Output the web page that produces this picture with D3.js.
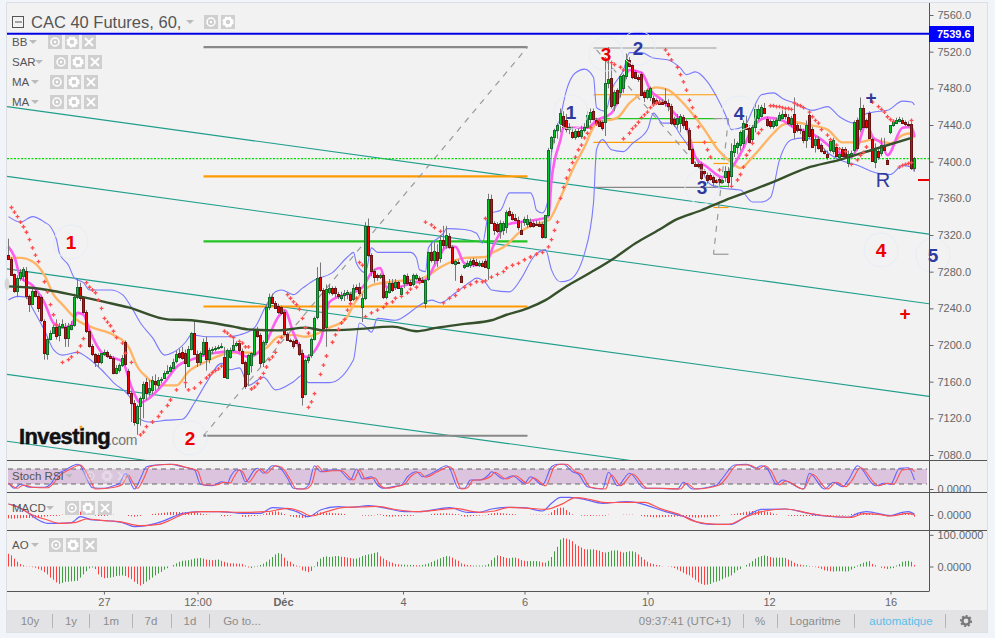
<!DOCTYPE html>
<html>
<head>
<meta charset="utf-8">
<script src="https://cdnjs.cloudflare.com/ajax/libs/d3/7.8.5/d3.min.js"></script>
<style>
  body { margin: 0; background: #f1f4f9; }
  svg { display: block; }
  text { font-family: "Liberation Sans", Arial, sans-serif; }
</style>
</head>
<body>
<div id="chart-area"></div>
<script>
// open, high, low, close per hourly bar
const ohlc = [
  [7298,7316,7294,7294],[7294,7296,7277,7277],[7277,7278,7257,7259],[7259,7276,7252,7273],[7273,7283,7270,7280],
  [7275,7285,7270,7283],[7281,7285,7250,7254],[7254,7255,7236,7245],[7245,7263,7244,7259],[7259,7261,7252,7254],
  [7254,7256,7236,7241],[7252,7254,7225,7227],[7226,7228,7184,7191],[7191,7209,7184,7207],[7207,7216,7205,7213],
  [7213,7222,7212,7220],[7220,7228,7206,7210],[7211,7224,7204,7221],[7220,7228,7218,7223],[7220,7224,7198,7208],
  [7208,7224,7198,7221],[7218,7226,7216,7222],[7222,7256,7220,7252],[7252,7272,7250,7263],[7263,7268,7248,7251],
  [7251,7253,7234,7236],[7236,7238,7213,7215],[7215,7217,7197,7199],[7199,7201,7188,7190],[7190,7191,7176,7181],
  [7189,7191,7176,7181],[7181,7191,7179,7191],[7190,7195,7188,7192],[7192,7194,7186,7188],[7188,7190,7185,7186],
  [7186,7188,7168,7170],[7170,7178,7168,7175],[7173,7180,7170,7178],[7178,7189,7176,7186],[7203,7205,7177,7179],
  [7172,7174,7146,7148],[7148,7150,7116,7137],[7137,7140,7112,7116],[7115,7135,7102,7133],[7133,7144,7112,7142],
  [7142,7160,7120,7157],[7160,7164,7140,7148],[7149,7162,7144,7153],[7151,7166,7146,7162],[7161,7168,7150,7158],
  [7157,7165,7152,7162],[7162,7165,7158,7163],[7165,7172,7163,7170],[7170,7178,7168,7172],[7172,7178,7170,7176],
  [7176,7185,7174,7182],[7182,7194,7180,7190],[7191,7196,7185,7187],[7192,7198,7184,7186],[7191,7195,7153,7180],
  [7178,7199,7176,7196],[7196,7214,7194,7213],[7213,7226,7189,7190],[7190,7194,7176,7181],[7181,7193,7178,7191],
  [7190,7207,7188,7203],[7203,7209,7172,7185],[7185,7197,7180,7195],[7195,7198,7190,7196],[7196,7199,7193,7197],
  [7197,7200,7195,7198],[7198,7202,7196,7199],[7187,7198,7165,7165],[7165,7196,7163,7195],[7187,7197,7185,7195],
  [7195,7206,7193,7200],[7200,7204,7198,7202],[7202,7204,7192,7194],[7194,7196,7179,7181],[7181,7183,7152,7155],
  [7168,7190,7155,7189],[7178,7192,7170,7191],[7190,7217,7188,7216],[7216,7220,7208,7209],[7211,7213,7176,7180],
  [7181,7205,7176,7203],[7203,7244,7200,7241],[7241,7256,7238,7252],[7252,7256,7245,7246],[7246,7248,7240,7241],
  [7243,7245,7234,7236],[7241,7243,7233,7235],[7236,7238,7210,7212],[7212,7214,7205,7206],[7205,7207,7203,7204],
  [7204,7206,7196,7198],[7205,7207,7201,7202],[7201,7203,7188,7190],[7191,7195,7134,7143],[7147,7185,7145,7184],
  [7184,7190,7180,7187],[7190,7208,7186,7207],[7207,7231,7205,7230],[7230,7285,7228,7273],[7274,7290,7258,7260],
  [7260,7262,7218,7219],[7220,7266,7198,7261],[7258,7266,7255,7262],[7262,7264,7254,7256],[7262,7264,7252,7257],
  [7256,7258,7250,7254],[7252,7258,7248,7255],[7255,7260,7248,7257],[7256,7260,7250,7258],[7256,7258,7245,7250],
  [7250,7266,7248,7262],[7263,7266,7260,7261],[7263,7268,7254,7256],[7241,7256,7225,7251],[7251,7334,7249,7330],
  [7330,7338,7296,7298],[7298,7300,7275,7281],[7281,7283,7268,7274],[7276,7278,7270,7274],[7274,7278,7272,7276],
  [7276,7278,7250,7252],[7252,7262,7250,7259],[7258,7272,7256,7268],[7268,7272,7258,7260],[7264,7272,7260,7269],
  [7269,7270,7261,7263],[7255,7264,7252,7262],[7267,7277,7262,7276],[7275,7278,7265,7267],[7269,7271,7264,7266],
  [7266,7278,7264,7276],[7273,7278,7271,7276],[7273,7275,7268,7271],[7271,7274,7268,7269],[7246,7272,7240,7271],
  [7273,7302,7270,7302],[7302,7312,7290,7293],[7293,7312,7288,7303],[7302,7310,7285,7293],[7295,7320,7290,7315],
  [7315,7330,7305,7310],[7309,7330,7305,7320],[7319,7322,7305,7307],[7307,7309,7288,7290],[7289,7293,7270,7292],
  [7291,7293,7289,7290],[7275,7277,7268,7269],[7285,7288,7283,7287],[7287,7292,7285,7290],[7288,7294,7284,7292],
  [7293,7295,7285,7289],[7291,7294,7286,7288],[7288,7292,7285,7290],[7290,7292,7285,7287],[7292,7294,7284,7285],
  [7284,7365,7271,7359],[7359,7364,7332,7333],[7333,7335,7320,7325],[7332,7334,7322,7324],[7324,7336,7316,7333],
  [7325,7335,7320,7333],[7329,7347,7322,7345],[7346,7350,7340,7342],[7343,7345,7336,7338],[7339,7343,7335,7337],
  [7336,7340,7325,7328],[7326,7335,7320,7322],[7335,7340,7330,7338],[7333,7342,7328,7338],[7334,7338,7328,7330],
  [7333,7336,7328,7330],[7332,7336,7330,7331],[7332,7335,7329,7330],[7332,7334,7316,7318],[7318,7342,7316,7342],
  [7342,7415,7340,7413],[7415,7428,7410,7427],[7427,7436,7420,7435],[7435,7442,7425,7440],[7441,7458,7432,7453],
  [7450,7455,7436,7438],[7446,7452,7432,7436],[7436,7442,7430,7438],[7432,7438,7425,7427],[7427,7436,7424,7433],
  [7433,7436,7426,7428],[7429,7440,7425,7435],[7435,7442,7432,7438],[7438,7455,7436,7451],[7446,7458,7442,7454],
  [7455,7458,7445,7446],[7446,7448,7440,7443],[7444,7446,7438,7439],[7443,7445,7434,7436],[7443,7510,7428,7486],
  [7486,7525,7480,7490],[7491,7510,7458,7461],[7462,7478,7455,7476],[7478,7480,7462,7464],[7476,7495,7470,7493],
  [7480,7496,7475,7494],[7493,7518,7490,7512],[7511,7514,7503,7505],[7505,7507,7490,7492],[7498,7500,7490,7492],
  [7492,7495,7487,7490],[7496,7498,7472,7473],[7476,7478,7465,7470],[7470,7480,7468,7478],[7470,7482,7466,7480],
  [7470,7472,7462,7465],[7467,7469,7463,7464],[7465,7468,7462,7463],[7465,7468,7462,7463],[7466,7480,7460,7464],
  [7464,7468,7455,7461],[7461,7463,7440,7443],[7447,7449,7438,7441],[7441,7452,7436,7448],[7442,7452,7432,7450],
  [7449,7451,7436,7440],[7444,7446,7434,7435],[7435,7437,7412,7414],[7414,7415,7398,7399],[7398,7400,7395,7396],
  [7397,7399,7393,7395],[7398,7400,7380,7383],[7390,7392,7385,7388],[7386,7388,7376,7380],[7385,7388,7380,7381],
  [7383,7385,7374,7378],[7380,7382,7376,7378],[7381,7383,7372,7378],[7378,7381,7376,7380],[7383,7395,7378,7390],
  [7390,7394,7372,7378],[7385,7420,7374,7412],[7410,7425,7405,7418],[7416,7422,7408,7420],[7418,7434,7412,7432],
  [7420,7445,7415,7442],[7441,7450,7435,7436],[7437,7440,7420,7422],[7425,7440,7420,7438],[7437,7462,7432,7457],
  [7448,7462,7445,7458],[7450,7462,7448,7460],[7459,7464,7452,7453],[7447,7449,7438,7440],[7444,7446,7436,7439],
  [7439,7446,7436,7444],[7440,7448,7438,7446],[7446,7454,7444,7451],[7448,7456,7446,7452],[7452,7455,7446,7450],
  [7449,7452,7440,7442],[7441,7450,7438,7448],[7452,7470,7425,7432],[7440,7442,7432,7435],[7436,7440,7430,7435],
  [7434,7436,7420,7424],[7424,7445,7415,7440],[7451,7456,7425,7428],[7436,7438,7416,7416],[7418,7428,7410,7425],
  [7425,7428,7413,7415],[7418,7420,7410,7411],[7412,7414,7408,7410],[7408,7412,7402,7405],[7413,7425,7410,7423],
  [7412,7426,7408,7424],[7416,7418,7405,7406],[7405,7410,7403,7408],[7414,7416,7405,7406],[7414,7416,7405,7406],
  [7398,7412,7394,7408],[7408,7412,7405,7410],[7412,7445,7410,7443],[7446,7448,7412,7415],[7436,7470,7432,7459],
  [7459,7462,7437,7438],[7445,7447,7436,7437],[7453,7455,7426,7426],[7425,7426,7400,7401],[7400,7420,7393,7413],
  [7412,7416,7402,7405],[7409,7426,7406,7418],[7418,7426,7412,7413],[7402,7404,7398,7398],[7432,7440,7430,7440],
  [7440,7446,7438,7444],[7443,7448,7441,7446],[7445,7449,7443,7447],[7446,7448,7441,7443],[7443,7445,7439,7441],
  [7441,7444,7438,7440],[7441,7443,7391,7393],[7393,7405,7390,7404]
];

// indicators on the price panel, as [bar, price]
const bbUpper = [[0,7340],[4,7334],[8,7340],[12,7334],[14,7329],[16,7315],[17,7300],[20,7287],[22,7273],[25,7268],[27,7260],[34,7260],[38,7255],[41,7241],[44,7224],[48,7208],[52,7189],[55,7192],[59,7203],[61,7211],[66,7209],[73,7209],[77,7211],[82,7219],[86,7244],[89,7258],[91,7260],[95,7255],[98,7262],[102,7271],[108,7279],[113,7296],[115,7301],[116,7289],[119,7279],[121,7306],[123,7301],[134,7301],[136,7295],[137,7282],[139,7280],[140,7306],[145,7322],[146,7327],[152,7326],[156,7322],[158,7311],[160,7342],[161,7344],[164,7347],[167,7366],[170,7366],[174,7366],[175,7360],[176,7347],[178,7344],[180,7361],[181,7409],[184,7449],[186,7478],[189,7497],[192,7501],[195,7492],[196,7459],[199,7455],[201,7478],[205,7500],[207,7519],[211,7519],[215,7513],[220,7511],[224,7502],[226,7495],[229,7498],[233,7487],[236,7471],[239,7451],[241,7435],[244,7437],[246,7442],[248,7456],[251,7473],[255,7475],[258,7469],[262,7464],[268,7456],[273,7460],[277,7449],[282,7442],[285,7451],[288,7454],[293,7456],[298,7466],[301,7465],[302,7462]];
const bbLower = [[0,7249],[3,7253],[6,7252],[8,7240],[12,7216],[15,7195],[18,7189],[23,7192],[26,7187],[31,7173],[35,7159],[41,7140],[43,7121],[47,7116],[53,7118],[58,7119],[62,7137],[66,7159],[71,7180],[74,7173],[77,7175],[80,7156],[85,7165],[89,7151],[95,7160],[98,7167],[100,7159],[107,7159],[115,7184],[117,7224],[119,7220],[121,7214],[123,7229],[129,7227],[134,7236],[136,7241],[141,7249],[144,7246],[149,7257],[154,7269],[156,7273],[159,7268],[161,7260],[167,7258],[171,7273],[175,7296],[179,7304],[181,7282],[184,7269],[187,7271],[192,7300],[195,7355],[196,7413],[198,7424],[201,7413],[205,7411],[208,7420],[213,7435],[215,7453],[218,7442],[221,7442],[224,7429],[226,7420],[229,7405],[231,7391],[234,7375],[238,7371],[244,7369],[248,7356],[251,7356],[254,7361],[257,7402],[261,7424],[265,7426],[270,7420],[273,7410],[277,7402],[283,7396],[289,7388],[294,7386],[298,7396],[301,7394],[302,7389]];
const maFast = [[0,7307],[2,7296],[4,7274],[8,7265],[12,7246],[15,7224],[18,7219],[21,7222],[23,7235],[25,7233],[27,7216],[31,7192],[34,7187],[38,7182],[41,7154],[44,7137],[46,7140],[52,7159],[56,7176],[61,7184],[68,7191],[75,7193],[80,7187],[85,7198],[90,7231],[92,7238],[95,7213],[99,7187],[104,7205],[107,7247],[118,7263],[121,7279],[124,7284],[126,7263],[129,7263],[135,7268],[139,7271],[143,7293],[146,7307],[149,7307],[152,7289],[155,7287],[159,7289],[162,7311],[166,7331],[170,7334],[175,7336],[180,7340],[181,7380],[184,7424],[185,7437],[188,7437],[193,7437],[196,7445],[201,7453],[204,7475],[207,7500],[211,7497],[214,7478],[218,7467],[223,7449],[226,7438],[229,7405],[233,7394],[238,7383],[241,7393],[245,7415],[248,7437],[253,7448],[258,7445],[262,7437],[267,7432],[271,7424],[274,7416],[277,7410],[281,7405],[283,7416],[286,7442],[288,7427],[291,7420],[293,7407],[298,7437],[301,7438],[302,7427]];
const maMid = [[0,7295],[4,7295],[8,7291],[12,7276],[15,7255],[18,7244],[23,7227],[28,7219],[35,7211],[40,7198],[43,7176],[46,7165],[50,7156],[56,7156],[60,7171],[66,7182],[73,7191],[78,7192],[82,7191],[86,7197],[90,7209],[95,7211],[99,7209],[104,7214],[107,7219],[112,7227],[116,7249],[121,7265],[128,7269],[138,7273],[144,7285],[152,7295],[159,7296],[161,7300],[166,7309],[170,7322],[175,7331],[180,7336],[184,7361],[188,7391],[192,7416],[196,7442],[203,7448],[207,7464],[212,7476],[216,7481],[220,7478],[224,7467],[227,7456],[232,7435],[236,7415],[241,7399],[244,7393],[248,7405],[255,7431],[258,7440],[262,7443],[267,7440],[273,7435],[278,7421],[283,7421],[288,7424],[294,7420],[298,7429],[301,7431],[302,7426]];
const maSlow = [[0,7264],[6,7263],[13,7260],[21,7255],[32,7247],[40,7241],[53,7228],[61,7227],[75,7220],[80,7217],[90,7216],[99,7219],[105,7216],[115,7217],[128,7220],[136,7215],[143,7219],[152,7223],[161,7227],[166,7233],[173,7240],[179,7249],[185,7262],[194,7279],[202,7295],[209,7311],[217,7326],[222,7336],[231,7347],[239,7358],[248,7369],[255,7378],[266,7393],[277,7402],[288,7413],[301,7426]];
const sar = [[1,7350],[2,7345],[3,7340],[4,7334],[5,7329],[6,7323],[7,7315],[8,7306],[9,7298],[10,7291],[12,7269],[13,7258],[14,7244],[15,7233],[16,7222],
  [18,7181],[20,7184],[21,7187],[23,7192],[24,7199],[25,7207],
  [26,7268],[27,7263],[28,7260],[29,7257],[30,7249],[31,7240],[32,7229],[33,7225],[34,7221],[35,7215],[36,7208],[38,7202],[39,7191],[41,7181],
  [44,7102],[45,7105],[46,7111],[48,7116],[50,7122],[51,7127],[53,7134],[54,7140],[56,7151],[59,7159],[60,7151],[62,7153],[64,7159],[66,7164],[67,7167],[68,7170],[69,7172],[70,7174],[71,7177],
  [72,7215],[73,7213],[74,7210],[75,7208],[77,7204],[78,7202],[79,7198],[80,7198],
  [81,7152],[82,7154],[83,7158],[84,7164],[85,7169],[86,7176],[87,7184],[88,7187],[89,7192],[90,7203],[91,7208],
  [93,7255],[94,7251],[95,7247],[96,7244],[97,7239],[98,7229],[99,7219],[100,7213],
  [100,7132],[101,7138],[102,7147],[104,7168],[105,7178],[106,7188],[108,7203],[109,7211],[110,7217],[111,7224],[112,7228],[113,7238],[114,7245],[116,7251],
  [117,7290],[118,7287],
  [119,7231],[121,7235],[123,7238],[125,7241],[126,7245],[128,7247],[129,7251],[131,7253],[133,7257],[134,7261],[136,7263],[137,7268],
  [139,7334],[141,7331],[142,7328],[144,7324],[159,7338],
  [145,7246],[147,7251],[149,7254],[150,7260],[152,7263],[154,7266],[156,7269],[158,7269],[159,7270],[161,7274],[163,7277],[165,7280],[166,7284],[168,7287],[170,7289],[172,7293],[174,7296],[176,7299],[178,7301],[180,7307],[181,7315],[182,7325],[183,7334],
  [184,7360],[185,7372],[186,7382],[187,7391],[188,7399],[189,7405],[190,7413],[191,7418],[192,7426],[193,7431],[194,7437],[196,7441],[197,7445],
  [199,7512],[201,7508],[202,7506],[204,7503],[205,7500],
  [205,7425],[207,7431],[208,7436],[209,7439],[210,7443],[211,7448],[212,7451],[213,7454],[214,7459],[215,7462],[216,7464],[217,7465],
  [219,7522],[220,7517],[221,7511],[223,7503],[224,7495],[225,7487],[226,7478],[227,7467],[228,7459],[229,7449],[230,7438],[232,7421],[233,7413],[234,7405],[237,7391],
  [241,7373],[243,7380],[244,7386],[245,7394],[246,7407],[247,7412],[248,7420],[250,7431],[251,7435],
  [254,7461],[255,7461],[256,7460],[257,7460],[258,7459],[259,7458],[260,7458],[261,7457],
  [262,7464],[263,7462],[264,7461],[265,7459],[267,7454],[268,7449],[269,7445],[270,7442],[271,7435],[273,7429],[274,7424],[276,7418],[277,7414],[279,7411],
  [281,7397],[283,7402],[284,7407],[285,7410],[286,7416],
  [288,7465],[290,7460],[291,7457],[292,7454],[293,7449],[294,7446],[295,7444],
  [297,7394],[298,7396],[299,7397],[300,7398],[301,7399],[301,7445]];

// lower panels
const stochK = [[0,23],[2,3],[4,19],[7,7],[12,7],[14,19],[16,56],[19,76],[23,99],[24,93],[26,43],[28,5],[32,3],[35,13],[37,23],[39,63],[40,45],[42,0],[44,43],[46,89],[49,96],[54,99],[58,89],[62,76],[64,19],[68,13],[71,29],[73,23],[74,49],[76,76],[77,76],[79,29],[82,76],[83,83],[85,63],[88,93],[90,89],[93,43],[95,3],[98,0],[100,16],[102,93],[104,69],[107,76],[110,76],[114,36],[116,80],[118,40],[121,49],[123,16],[125,3],[128,9],[131,16],[133,49],[136,69],[138,49],[142,69],[146,93],[147,83],[150,3],[152,3],[154,36],[157,36],[160,56],[161,69],[165,40],[168,53],[172,23],[174,49],[178,16],[181,89],[183,99],[185,99],[188,69],[190,59],[193,9],[198,0],[200,67],[203,13],[207,63],[212,3],[216,3],[223,0],[225,27],[228,0],[236,16],[238,43],[242,96],[246,99],[249,83],[251,93],[253,80],[256,19],[258,36],[265,0],[267,63],[272,0],[275,27],[278,9],[280,36],[283,93],[289,13],[292,23],[294,19],[297,83],[300,85],[302,36]];
const stochD = [[0,23],[3,3],[5,16],[8,7],[13,5],[15,23],[17,53],[20,76],[24,96],[25,85],[27,43],[29,0],[33,3],[36,9],[38,19],[40,56],[41,36],[43,3],[45,40],[47,89],[50,96],[55,99],[59,87],[63,73],[65,16],[69,16],[72,27],[74,24],[75,45],[77,76],[78,69],[80,27],[83,72],[84,80],[86,63],[89,93],[91,87],[94,36],[96,0],[99,0],[101,19],[103,93],[105,69],[108,73],[111,73],[115,36],[117,76],[119,40],[122,45],[124,13],[126,3],[129,9],[132,19],[134,49],[137,67],[139,47],[143,69],[147,89],[148,80],[151,0],[153,5],[155,36],[157,36],[161,53],[162,67],[166,40],[169,53],[173,23],[175,45],[179,13],[182,89],[184,99],[186,99],[189,69],[191,59],[194,7],[199,0],[201,56],[204,13],[208,60],[213,3],[217,3],[224,0],[226,23],[229,0],[237,16],[239,40],[243,96],[247,96],[250,80],[252,93],[254,76],[257,16],[259,32],[265,0],[268,59],[273,0],[276,27],[279,9],[281,32],[284,85],[290,13],[293,23],[295,19],[298,76],[301,80],[302,69]];
const macdLine = [[0,33],[3,25],[6,10],[9,-10],[13,-25],[17,-25],[21,-23],[24,-5],[28,-15],[34,-18],[38,-23],[42,-35],[46,-32],[51,-20],[55,-5],[58,5],[64,10],[70,10],[78,5],[84,5],[88,22],[92,20],[96,10],[100,-5],[104,15],[110,25],[114,23],[120,28],[126,20],[132,10],[137,10],[147,22],[153,8],[157,8],[161,18],[166,23],[172,22],[178,12],[181,35],[184,53],[187,53],[192,47],[198,35],[206,40],[209,38],[213,28],[219,10],[226,-7],[231,-25],[235,-28],[241,-28],[244,-15],[251,17],[259,18],[265,8],[272,-3],[280,-7],[283,5],[286,10],[294,-2],[298,8],[300,10],[302,2]];
const macdSignal = [[0,33],[4,20],[8,0],[13,-15],[17,-25],[22,-23],[26,-12],[32,-17],[37,-20],[44,-32],[50,-28],[54,-15],[58,2],[64,10],[70,10],[78,8],[86,10],[93,20],[97,12],[101,-3],[106,10],[112,23],[118,24],[123,26],[128,18],[136,10],[145,17],[149,20],[155,10],[157,8],[162,12],[167,23],[174,20],[179,17],[185,35],[189,52],[193,48],[199,37],[206,38],[212,38],[217,20],[224,0],[229,-20],[236,-28],[240,-28],[246,-5],[252,12],[259,18],[267,5],[273,-3],[281,-7],[285,4],[290,2],[294,-3],[300,5],[302,0]];
const macdHist = [-10,-11,-11,-10,-10,-9,-9,-9,-8,-8,-8,-7,-5,-4,-3,-3,-3,-2,1,1,2,5,8,9,10,10,9,7,6,-2,-3,-3,-3,-2,1,1,0,0,0,0,-3,-4,-5,-4,-3,0,0,0,3,4,5,6,7,8,9,9,9,9,8,8,7,7,7,6,5,3,2,1,0,0,0,-3,-4,-3,-2,0,0,0,-5,-6,-5,-3,-3,-2,-1,2,5,8,10,11,10,7,3,0,-4,-6,-7,-8,-9,-8,-5,-3,4,7,8,8,7,7,6,5,5,4,3,0,0,0,0,0,-2,-2,-2,-2,-1,2,2,-3,-4,-5,-5,-4,-4,-4,-3,-3,-3,-2,0,0,0,0,0,3,4,4,5,5,5,4,4,3,2,-3,-5,-5,-4,-3,-2,-2,-1,-1,3,5,6,7,6,5,4,3,3,2,0,0,0,0,1,1,1,1,1,1,2,8,15,20,22,22,15,8,2,0,0,-2,-2,-2,-3,-2,-2,-2,-2,-2,1,0,0,0,0,1,1,1,1,0,0,-3,-4,-5,-6,-7,-7,-7,-6,-6,-5,-5,-5,-4,-4,-4,-4,-6,-7,-8,-8,-7,-7,-7,-6,-5,-4,-2,0,0,0,2,3,5,6,8,10,11,12,12,12,12,11,10,8,4,2,0,0,0,-2,-3,-3,-3,-3,-4,-3,-3,-3,-3,-3,-3,-2,-3,-3,-2,-2,-2,-2,-1,-1,3,4,5,6,7,6,5,4,3,2,1,-3,-4,-3,-2,3,4,5,5,4,3,-5];
const aoValues = [40,35,25,15,8,4,1,-1,-2,-4,-8,-12,-18,-25,-35,-42,-50,-55,-52,-48,-48,-47,-46,-45,-35,-25,-15,-6,-3,-8,-25,-33,-37,-36,-35,-33,-30,-29,-28,-30,-35,-40,-48,-55,-60,-55,-48,-42,-35,-28,-22,-17,-10,-5,0,5,10,15,18,19,20,22,25,26,27,25,22,21,20,21,22,18,15,12,10,10,9,9,8,3,-3,-5,-2,2,5,9,15,22,30,38,42,40,28,18,15,8,3,-2,-12,-15,-18,-14,-2,15,25,30,32,30,31,33,33,31,30,28,27,25,25,28,33,36,38,40,43,45,32,25,20,15,12,8,7,6,6,5,5,5,4,4,5,7,10,14,18,22,26,30,33,32,28,22,18,10,7,5,4,3,3,3,3,4,8,20,28,35,33,30,27,26,28,28,25,20,18,17,17,17,17,16,13,12,18,30,48,62,85,90,88,85,80,70,65,60,55,54,54,54,52,50,46,44,46,50,51,51,47,44,46,48,48,45,38,30,22,15,10,8,5,4,1,0,-1,-2,-5,-10,-15,-20,-25,-28,-35,-42,-50,-55,-58,-57,-55,-50,-48,-45,-40,-35,-32,-28,-20,-12,-8,0,5,10,17,25,30,33,35,33,30,28,28,28,28,27,22,18,12,8,6,4,4,2,1,-2,-4,-8,-12,-14,-15,-16,-15,-15,-15,-16,-15,-10,-5,3,8,12,15,17,8,4,0,-4,-6,-8,-6,-5,3,8,15,17,18,15,5];

// axis labels
const priceTicks = [7560,7520,7480,7440,7400,7360,7320,7280,7240,7200,7160,7120,7080];
const dateTickBars = [31.8,63,91.5,131.5,172,213,253.5,294];
const dateTickLabels = ["27","12:00","Déc","4","6","10","12","16"];
const lastPrice = 7539.6;
const bidLine = 7403.4;
const rangeLeft = ["10y","1y","1m","7d","1d","Go to..."];

// channel lines and retracement levels, in bars and prices
const channelStarts = [7460,7384,7283,7168,7095];
const channelDrop = 139;
const fibLarge = [[7525,"#888"],[7384,"#ff9a00"],[7313,"#22c422"],[7242,"#ff9a00"],[7101,"#888"]];
const fibMid = [[7524,"#999"],[7473,"#ff9a00"],[7447,"#22c422"],[7421,"#ff9a00"],[7372,"#888"]];
const fibSmall = [[7447,"#999"],[7398,"#ff9a00"],[7373,"#22c422"],[7350,"#ff9a00"],[7299,"#999"]];

const width = 995, height = 638;
const plot = { left: 7, right: 929, top: 3, mainBottom: 460, stochBottom: 492, macdBottom: 530, aoBottom: 591, barBottom: 610, frameBottom: 632, frameRight: 987 };

const x = d3.scaleLinear().domain([0, 302]).range([8.5, 914.5]);
const y = d3.scaleLinear().domain([7560, 7080]).range([15, 455]);
const yStoch = d3.scaleLinear().domain([0, 100]).range([489, 464]);
const yMacd = d3.scaleLinear().domain([-30, 30]).range([525, 505]);
const yAo = d3.scaleLinear().domain([0, 100]).range([566.5, 534.8]);

const svg = d3.select("#chart-area").append("svg").attr("width", width).attr("height", height);

svg.append("rect").attr("x", plot.left - 0.5).attr("y", plot.top - 0.5)
  .attr("width", plot.frameRight - plot.left + 1).attr("height", plot.frameBottom - plot.top + 1)
  .attr("fill", "#f2f2f2").attr("stroke", "#dcdfe4");

const defs = svg.append("defs");
const addClip = (id, top, bottom) => defs.append("clipPath").attr("id", id).append("rect")
  .attr("x", plot.left).attr("y", top).attr("width", plot.right - plot.left).attr("height", bottom - top);
addClip("clip-main", plot.top, plot.mainBottom);
addClip("clip-stoch", plot.mainBottom, plot.stochBottom);
addClip("clip-macd", plot.stochBottom, plot.macdBottom);
addClip("clip-ao", plot.macdBottom, plot.aoBottom);

const main = svg.append("g").attr("clip-path", "url(#clip-main)");

// drawings
channelStarts.forEach(p => {
  main.append("line").attr("x1", plot.left).attr("x2", plot.right)
    .attr("y1", y(p)).attr("y2", y(p - channelDrop))
    .attr("stroke", "#1f9e8b").attr("stroke-width", 1.1);
});

const drawFib = (levels, barA, barB, w) => {
  levels.forEach(([p, c]) => {
    main.append("line").attr("x1", x(barA)).attr("x2", x(barB)).attr("y1", y(p)).attr("y2", y(p))
      .attr("stroke", c).attr("stroke-width", w);
  });
};
const drawDash = (b1, p1, b2, p2) => {
  main.append("line").attr("x1", x(b1)).attr("x2", x(b2)).attr("y1", y(p1)).attr("y2", y(p2))
    .attr("stroke", "#999").attr("stroke-width", 1.2).attr("stroke-dasharray", "6,6");
};
drawFib(fibLarge, 65, 173, 2.2);
drawDash(65, 7101, 173, 7525);
drawFib(fibMid, 195, 236, 1.2);
drawDash(196, 7522, 236, 7372);
drawFib(fibSmall, 235, 240, 1.2);
drawDash(240, 7447, 235, 7299);

main.append("line").attr("x1", plot.left).attr("x2", plot.right).attr("y1", y(bidLine)).attr("y2", y(bidLine))
  .attr("stroke", "#00dc00").attr("stroke-width", 1.2).attr("stroke-dasharray", "2,1.5");
main.append("line").attr("x1", plot.left).attr("x2", plot.right).attr("y1", y(lastPrice)).attr("y2", y(lastPrice))
  .attr("stroke", "#0000e6").attr("stroke-width", 2);

// overlays
const priceLine = d3.line().x(d => x(d[0])).y(d => y(d[1])).curve(d3.curveMonotoneX);
const drawLine = (g, data, gen, color, w) => g.append("path").datum(data).attr("d", gen)
  .attr("fill", "none").attr("stroke", color).attr("stroke-width", w);

drawLine(main, bbUpper, priceLine, "#7a7aff", 1.1);
drawLine(main, bbLower, priceLine, "#7a7aff", 1.1);
drawLine(main, maMid, priceLine, "#ffb566", 2.4);
drawLine(main, maFast, priceLine, "#ff5cf0", 2.6);

// candles
const snap = i => Math.floor(x(i));
const candles = main.append("g").selectAll("g").data(ohlc).enter().append("g");
candles.append("line").attr("x1", (d, i) => snap(i) + 0.5).attr("x2", (d, i) => snap(i) + 0.5)
  .attr("y1", d => y(d[1])).attr("y2", d => y(d[2])).attr("stroke", "#777");
candles.append("rect").attr("x", (d, i) => snap(i) - 0.5).attr("width", 2)
  .attr("y", d => Math.round(y(Math.max(d[0], d[3]))) + 0.5)
  .attr("height", d => Math.max(1, Math.round(Math.abs(y(d[0]) - y(d[3])))))
  .attr("fill", d => d[3] >= d[0] ? "#00c820" : "#f00000")
  .attr("stroke", d => d[3] >= d[0] ? "#146b2a" : "#6b1212").attr("stroke-width", 1);

drawLine(main, maSlow, priceLine, "#35502a", 2.4);

// parabolic SAR
const cross = d3.symbol().type(d3.symbolCross).size(8);
main.append("g").selectAll("path").data(sar).enter().append("path")
  .attr("d", cross).attr("transform", d => `translate(${x(d[0])},${y(d[1])})`).attr("fill", "#ff4d4d");

// wave labels
const waveLabels = [
  ["1", 71, 242, "#ee0000", true], ["2", 190, 438, "#ee0000", true], ["3", 606, 54, "#ee0000", true],
  ["2", 638, 48, "#2f3a9e", true], ["1", 571, 112, "#2f3a9e", true], ["4", 739, 113, "#2f3a9e", true],
  ["3", 702, 187, "#2f3a9e", true], ["4", 881, 250, "#ee0000", true], ["5", 933, 255, "#2f3a9e", true],
  ["R", 883, 180, "#2f3a9e", false], ["+", 871, 97, "#2f3a9e", false], ["+", 905, 313, "#ee0000", false]
];
waveLabels.forEach(([t, cx, cy, c, ring]) => {
  if (ring) svg.append("circle").attr("cx", cx).attr("cy", cy).attr("r", 17).attr("fill", "none").attr("stroke", "#e6edf8");
  svg.append("text").attr("x", cx).attr("y", cy).attr("dy", "0.36em").attr("text-anchor", "middle")
    .attr("font-size", t === "R" ? 20 : 19).attr("font-weight", t === "R" ? "normal" : "bold").attr("fill", c).text(t);
});
svg.append("line").attr("x1", 918).attr("x2", 929).attr("y1", 180).attr("y2", 180).attr("stroke", "#ee0000").attr("stroke-width", 2);

// logo
svg.append("text").attr("x", 19).attr("y", 444).attr("font-size", 22).attr("font-weight", "bold")
  .attr("letter-spacing", -0.6).attr("fill", "#111").attr("stroke", "#111").attr("stroke-width", 0.5).text("Investing");
svg.append("text").attr("x", 108).attr("y", 445).attr("font-size", 14).attr("letter-spacing", -0.3).attr("fill", "#777").text(".com");
svg.append("circle").attr("cx", 81).attr("cy", 427).attr("r", 1.6).attr("fill", "#f5a623");

// scroll handle on the left edge
svg.append("ellipse").attr("cx", 7).attr("cy", 284).attr("rx", 2.5).attr("ry", 6).attr("fill", "#d6d6d6");

// stochastic RSI panel
const stoch = svg.append("g").attr("clip-path", "url(#clip-stoch)");
stoch.append("rect").attr("x", 8).attr("width", 919).attr("y", yStoch(80)).attr("height", yStoch(20) - yStoch(80)).attr("fill", "#dcc3de");
[80, 20].forEach(v => stoch.append("line").attr("x1", 8).attr("x2", 927).attr("y1", yStoch(v)).attr("y2", yStoch(v))
  .attr("stroke", "#666").attr("stroke-dasharray", "5,4"));
const stochGen = d3.line().x(d => x(d[0])).y(d => yStoch(d[1])).curve(d3.curveMonotoneX);
drawLine(stoch, stochK, stochGen, "#6464ff", 1.1);
drawLine(stoch, stochD, stochGen, "#ff5050", 1.1);

// MACD panel
const macd = svg.append("g").attr("clip-path", "url(#clip-macd)");
macd.append("g").selectAll("rect").data(macdHist).enter().append("rect")
  .attr("x", (d, i) => x(i) - 0.5).attr("width", 1)
  .attr("y", d => Math.min(yMacd(d), yMacd(0))).attr("height", d => Math.abs(yMacd(d) - yMacd(0)))
  .attr("fill", "#ff4040");
const macdGen = d3.line().x(d => x(d[0])).y(d => yMacd(d[1])).curve(d3.curveMonotoneX);
drawLine(macd, macdLine, macdGen, "#6464ff", 1.2);
drawLine(macd, macdSignal, macdGen, "#ff5050", 1.2);

// AO panel
const ao = svg.append("g").attr("clip-path", "url(#clip-ao)");
ao.append("g").selectAll("rect").data(aoValues).enter().append("rect")
  .attr("x", (d, i) => x(i) - 0.5).attr("width", 1)
  .attr("y", d => Math.min(yAo(d), yAo(0))).attr("height", d => Math.abs(yAo(d) - yAo(0)))
  .attr("fill", (d, i) => i > 0 && d >= aoValues[i - 1] ? "#3f9e3f" : "#ff4040");

// panel separators and axes
[plot.mainBottom, plot.stochBottom, plot.macdBottom].forEach(py => {
  svg.append("line").attr("x1", plot.left).attr("x2", plot.frameRight).attr("y1", py + 0.5).attr("y2", py + 0.5).attr("stroke", "#555");
});
svg.append("line").attr("x1", plot.left).attr("x2", plot.right + 0.5).attr("y1", plot.aoBottom + 0.5).attr("y2", plot.aoBottom + 0.5).attr("stroke", "#555");

const styleAxis = g => {
  g.select(".domain").attr("stroke", "#555");
  g.selectAll(".tick line").attr("stroke", "#666");
  g.selectAll(".tick text").attr("fill", "#666").attr("font-size", 11).attr("font-family", '"Liberation Sans", Arial, sans-serif');
};
const priceAxis = d3.axisRight(y).tickValues(priceTicks).tickFormat(d3.format(".1f")).tickSize(4).tickPadding(4);
svg.append("g").attr("transform", `translate(${plot.right + 0.5},0)`).call(priceAxis).call(styleAxis)
  .call(g => g.select(".domain").remove());
svg.append("line").attr("x1", plot.right + 0.5).attr("x2", plot.right + 0.5).attr("y1", plot.top).attr("y2", plot.aoBottom).attr("stroke", "#555");

const zeroTicks = [[yStoch, [0]], [yMacd, [0]], [yAo, [0, 100]]];
zeroTicks.forEach(([s, vals]) => {
  const ax = d3.axisRight(s).tickValues(vals).tickFormat(d3.format(".4f")).tickSize(4).tickPadding(4);
  svg.append("g").attr("transform", `translate(${plot.right + 0.5},0)`).call(ax).call(styleAxis)
    .call(g => g.select(".domain").remove());
});

const dateScale = d3.scaleOrdinal().domain(dateTickLabels).range(dateTickBars.map(b => x(b)));
const dateAxis = d3.axisBottom(dateScale).tickSize(3).tickPadding(4);
svg.append("g").attr("transform", `translate(0,${plot.aoBottom + 0.5})`).call(dateAxis).call(styleAxis)
  .call(g => g.select(".domain").remove())
  .call(g => g.selectAll(".tick text").attr("font-weight", d => d === "Déc" ? "bold" : "normal"));

// last price tag
svg.append("rect").attr("x", 929).attr("y", 26).attr("width", 45).attr("height", 16).attr("fill", "#0000ff");
svg.append("text").attr("x", 937).attr("y", 38).attr("font-size", 11).attr("font-weight", "bold").attr("fill", "#fff").text(lastPrice.toFixed(1));

// toolbar
svg.append("rect").attr("x", plot.left).attr("y", plot.barBottom).attr("width", plot.frameRight - plot.left).attr("height", plot.frameBottom - plot.barBottom).attr("fill", "#e3e3e5");
const barText = (t, cx, color) => svg.append("text").attr("x", cx).attr("y", 625).attr("text-anchor", "middle")
  .attr("font-size", 11.5).attr("fill", color || "#8c8c8c").text(t);
[30, 71, 111, 151, 190, 242].forEach((cx, i) => barText(rangeLeft[i], cx));
barText("09:37:41 (UTC+1)", 685);
barText("%", 760);
barText("Logaritme", 815);
barText("automatique", 901, "#5bbde8");
[52, 89, 132, 171, 209, 743, 777, 854, 945].forEach(sx => {
  svg.append("line").attr("x1", sx + 0.5).attr("x2", sx + 0.5).attr("y1", 614).attr("y2", 628).attr("stroke", "#b5b5b5");
});

// legend rows
const drawCaret = (cx, cy) => svg.append("path").attr("d", `M${cx - 4},${cy - 2}L${cx + 4},${cy - 2}L${cx},${cy + 2}Z`).attr("fill", "#bbb");
const drawIcon = (kind, cx, cy, op) => {
  const g = svg.append("g").attr("transform", `translate(${cx},${cy})`).attr("opacity", op || 1);
  g.append("rect").attr("x", -7).attr("y", -7).attr("width", 14).attr("height", 14).attr("fill", "#cfcfcf");
  if (kind === "eye") {
    g.append("circle").attr("r", 4).attr("fill", "none").attr("stroke", "#fff").attr("stroke-width", 1.5);
    g.append("circle").attr("r", 1.2).attr("fill", "#fff");
  } else if (kind === "gear") {
    g.append("circle").attr("r", 3.6).attr("fill", "none").attr("stroke", "#fff").attr("stroke-width", 2.6);
    g.append("circle").attr("r", 5).attr("fill", "none").attr("stroke", "#fff").attr("stroke-width", 1.4).attr("stroke-dasharray", "2,2");
  } else {
    g.append("path").attr("d", "M-4,-4L4,4M4,-4L-4,4").attr("stroke", "#fff").attr("stroke-width", 1.8);
  }
};
const legendRow = (label, lx, cy, caretX, iconX, op) => {
  svg.append("text").attr("x", lx).attr("y", cy).attr("dy", "0.36em").attr("font-size", 11.5).attr("fill", "#555").text(label);
  drawCaret(caretX, cy);
  ["eye", "gear", "cross"].forEach((k, i) => drawIcon(k, iconX[i], cy, op));
};
legendRow("BB", 12, 42, 33, [55, 72, 89]);
legendRow("SAR", 12, 62, 39, [61, 78, 95]);
legendRow("MA", 12, 82, 35, [57, 74, 91]);
legendRow("MA", 12, 102, 35, [57, 74, 91]);
legendRow("Stoch RSI", 12, 476, 69, [90, 107, 122], 0.35);
legendRow("MACD", 12, 508, 50, [72, 88, 105]);
legendRow("AO", 12, 545, 35, [56, 73, 90]);

// title
svg.append("rect").attr("x", 12.5).attr("y", 16.5).attr("width", 11).attr("height", 11).attr("fill", "none").attr("stroke", "#555");
svg.append("line").attr("x1", 15).attr("x2", 22).attr("y1", 22).attr("y2", 22).attr("stroke", "#555");
svg.append("text").attr("x", 31).attr("y", 28).attr("font-size", 16.5).attr("fill", "#555").text("CAC 40 Futures, 60,");
drawCaret(190, 22);
drawIcon("eye", 211, 22);
drawIcon("gear", 228, 22);

// gear in the toolbar
svg.append("circle").attr("cx", 966).attr("cy", 621).attr("r", 3.6).attr("fill", "none").attr("stroke", "#777").attr("stroke-width", 2.4);
svg.append("circle").attr("cx", 966).attr("cy", 621).attr("r", 5.3).attr("fill", "none").attr("stroke", "#777").attr("stroke-width", 1.6).attr("stroke-dasharray", "2,2");
</script>
</body>
</html>
